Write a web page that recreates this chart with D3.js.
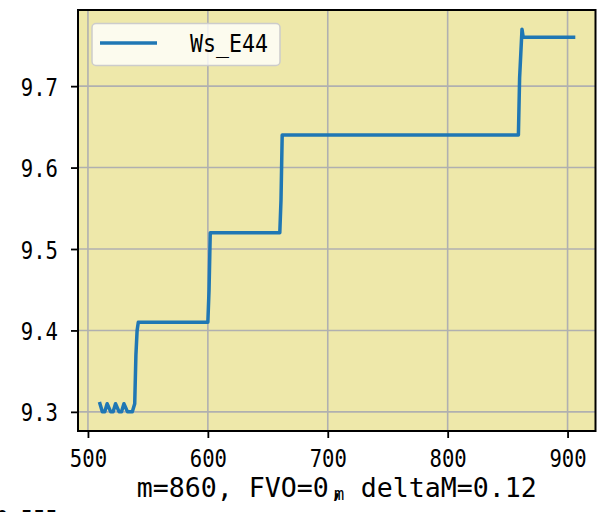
<!DOCTYPE html>
<html><head><meta charset="utf-8">
<script src="https://cdn.jsdelivr.net/npm/d3@7"></script>
<style>html,body{margin:0;padding:0;background:#fff;overflow:hidden}</style>
</head><body>
<svg id="c" width="597" height="512"></svg>
<script>
// ---- data ----
const seriesName = "Ws_E44";
const xs = [510,512,514,516,519,521,523,526,528,530,533,535,537,539,540,541,542,543,
            600,601,602,603,660,661,662,663,859,860,861,862,863,864,905];
const ys = [9.31,9.30,9.30,9.31,9.30,9.30,9.31,9.30,9.30,9.31,9.30,9.30,9.30,9.31,9.37,9.40,9.41,9.41,
            9.41,9.45,9.52,9.52,9.52,9.56,9.64,9.64,9.64,9.71,9.74,9.77,9.76,9.76,9.76];
const xTicks = [500,600,700,800,900];
const yTicks = [9.3,9.4,9.5,9.6,9.7];
const xLabel = "m=860, FVO=0, deltaM=0.12";

// ---- layout ----
const L=78, R=595.5, T=10, B=431;
const svg = d3.select("#c");
const x = d3.scaleLinear().domain([491.7,923.3]).range([L,R]);
const y = d3.scaleLinear().domain([9.2765,9.7935]).range([B,T]);
const mono = "'DejaVu Sans Mono','Liberation Mono',monospace";
function fitText(sel, cell){ sel.each(function(){ const n=this.textContent.length; d3.select(this).attr("textLength", n*cell).attr("lengthAdjust","spacingAndGlyphs"); }); }

svg.append("rect").attr("x",L).attr("y",T).attr("width",R-L).attr("height",B-T).attr("fill","#eee8aa");

// grid
svg.append("g").selectAll("line").data(xTicks).join("line")
  .attr("x1",d=>x(d)).attr("x2",d=>x(d)).attr("y1",T).attr("y2",B)
  .attr("stroke","#b0b0b0").attr("stroke-width",1.6);
svg.append("g").selectAll("line").data(yTicks).join("line")
  .attr("y1",d=>y(d)).attr("y2",d=>y(d)).attr("x1",L).attr("x2",R)
  .attr("stroke","#b0b0b0").attr("stroke-width",1.6);

// line
const pts = xs.map((d,i)=>[d,ys[i]]);
svg.append("path").datum(pts)
  .attr("d", d3.line().x(d=>x(d[0])).y(d=>y(d[1])))
  .attr("fill","none").attr("stroke","#1f77b4").attr("stroke-width",3.5)
  .attr("stroke-linejoin","round").attr("stroke-linecap","square");

// axes
const xa = svg.append("g").attr("transform",`translate(0,${B})`)
  .call(d3.axisBottom(x).tickValues(xTicks).tickSize(7).tickPadding(6).tickFormat(d3.format("d")));
const ya = svg.append("g").attr("transform",`translate(${L},0)`)
  .call(d3.axisLeft(y).tickValues(yTicks).tickSize(7).tickPadding(13).tickFormat(d3.format(".1f")));
[xa,ya].forEach(a=>{
  a.select(".domain").remove();
  a.selectAll(".tick line").attr("stroke","#000").attr("stroke-width",1.8);
  a.selectAll(".tick text").attr("font-family",mono).attr("font-size",25).attr("fill","#000");
  fitText(a.selectAll(".tick text"), 12.4);
});
xa.selectAll(".tick text").attr("dy","0.9em");
ya.selectAll(".tick text").attr("dy","0.36em");

// frame
svg.append("rect").attr("x",L).attr("y",T).attr("width",R-L).attr("height",B-T)
  .attr("fill","none").attr("stroke","#000").attr("stroke-width",2);

// x label
svg.append("text").attr("x",(L+R)/2).attr("y",497).attr("text-anchor","middle")
  .attr("font-family",mono).attr("font-size",26).attr("fill","#000").text(xLabel)
  .call(s=>fitText(s,16));
svg.append("text").attr("x",339).attr("y",500).attr("text-anchor","middle")
  .attr("font-family",mono).attr("font-size",17).attr("fill","#000").text("m");
svg.append("text").attr("x",-4).attr("y",528)
  .attr("font-family",mono).attr("font-size",25).attr("fill","#000").text("0.555")
  .call(s=>fitText(s,12.4));

// legend
const lg = svg.append("g");
lg.append("rect").attr("x",92).attr("y",23.5).attr("width",188).attr("height",42).attr("rx",4)
  .attr("fill","#fff").attr("fill-opacity",0.8).attr("stroke","#cccccc").attr("stroke-width",1.5);
lg.append("line").attr("x1",100).attr("x2",157).attr("y1",43).attr("y2",43)
  .attr("stroke","#1f77b4").attr("stroke-width",3.5);
lg.append("text").attr("x",190).attr("y",52).attr("font-family",mono).attr("font-size",25)
  .attr("fill","#000").text(seriesName).call(s=>fitText(s,13));
</script>
</body></html>
